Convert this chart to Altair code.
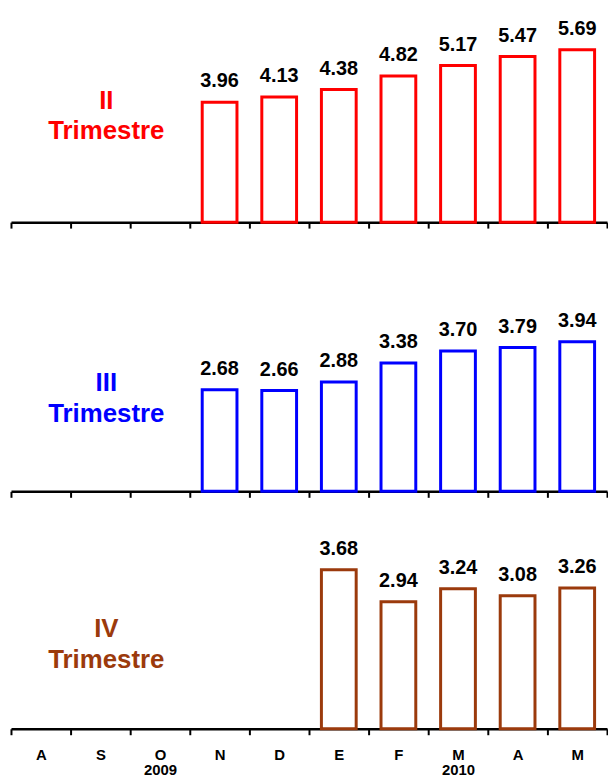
import altair as alt
import pandas as pd

# Category axis (Aug 2009 - May 2010)
months = ["Ago", "Sep", "Oct", "Nov", "Dic", "Ene", "Feb", "Mar", "Abr", "May"]
month_letters = ["A", "S", "O", "N", "D", "E", "F", "M", "A", "M"]
year_labels = {"Oct": "2009", "Mar": "2010"}

# II Trimestre
q2_months = ["Nov", "Dic", "Ene", "Feb", "Mar", "Abr", "May"]
q2_values = [3.96, 4.13, 4.38, 4.82, 5.17, 5.47, 5.69]

# III Trimestre
q3_months = ["Nov", "Dic", "Ene", "Feb", "Mar", "Abr", "May"]
q3_values = [2.68, 2.66, 2.88, 3.38, 3.70, 3.79, 3.94]

# IV Trimestre
q4_months = ["Ene", "Feb", "Mar", "Abr", "May"]
q4_values = [3.68, 2.94, 3.24, 3.08, 3.26]

FONT = "Liberation Sans"

# label expression: letters, with the year as a second line
expr = "''"
for key, letter in zip(reversed(months), reversed(month_letters)):
    if key in year_labels:
        lab = "['%s','%s']" % (letter, year_labels[key])
    else:
        lab = "'%s'" % letter
    expr = "datum.value == '%s' ? %s : (%s)" % (key, lab, expr)


def panel(mks, vals, color, lines, d_max, height, note_y, note_lh, show_labels):
    df = pd.DataFrame({"mes": mks, "valor": vals})
    axis_kwargs = dict(
        title=None,
        domainColor="black",
        domainWidth=2.5,
        tickColor="black",
        tickWidth=2,
        tickSize=6,
        tickBand="extent",
        grid=False,
        labelAngle=0,
        labelOverlap=False,
    )
    if show_labels:
        axis_kwargs.update(
            labels=True,
            labelExpr=expr,
            labelFont=FONT,
            labelFontSize=15,
            labelFontWeight="bold",
            labelColor="black",
            labelLineHeight=15,
            labelPadding=13,
        )
    else:
        axis_kwargs.update(labels=False)
    x = alt.X(
        "mes:N",
        sort=months,
        scale=alt.Scale(domain=months, paddingInner=0, paddingOuter=0),
        axis=alt.Axis(**axis_kwargs),
    )
    y = alt.Y(
        "valor:Q",
        scale=alt.Scale(domain=[0, d_max], nice=False, zero=True),
        axis=None,
    )
    base = alt.Chart(df).encode(x=x, y=y)
    bars = base.mark_bar(fill="white", stroke=color, strokeWidth=3, size=35)
    labels = base.mark_text(
        font=FONT,
        fontSize=20,
        fontWeight="bold",
        color="black",
        baseline="alphabetic",
        dy=-15,
    ).encode(text=alt.Text("valor:Q", format=".2f"))
    note = (
        alt.Chart(pd.DataFrame({"k": [0]}))
        .mark_text(
            text=lines,
            font=FONT,
            fontSize=26,
            fontWeight="bold",
            color=color,
            align="center",
            baseline="alphabetic",
            lineHeight=note_lh,
        )
        .encode(x=alt.value(96), y=alt.value(note_y))
    )
    return alt.layer(bars, labels, note).properties(width=600, height=height)


p1 = panel(q2_months, q2_values, "#ff0000", ["II", "Trimestre"], 210 / 30.5, 210, 96, 30, False)
p2 = panel(q3_months, q3_values, "#0000ff", ["III", "Trimestre"], 231 / 38.2, 231, 130, 31, False)
p3 = panel(q4_months, q4_values, "#9b3a0c", ["IV", "Trimestre"], 199 / 43.5, 199, 107, 31, True)

chart = (
    alt.vconcat(p1, p2, p3, spacing=40, bounds="flush")
    .properties(padding={"left": 2, "top": 3, "right": 0, "bottom": 0})
    .configure_view(stroke=None)
)

chart.save("out.html", embed_options={"renderer": "svg", "actions": False})
